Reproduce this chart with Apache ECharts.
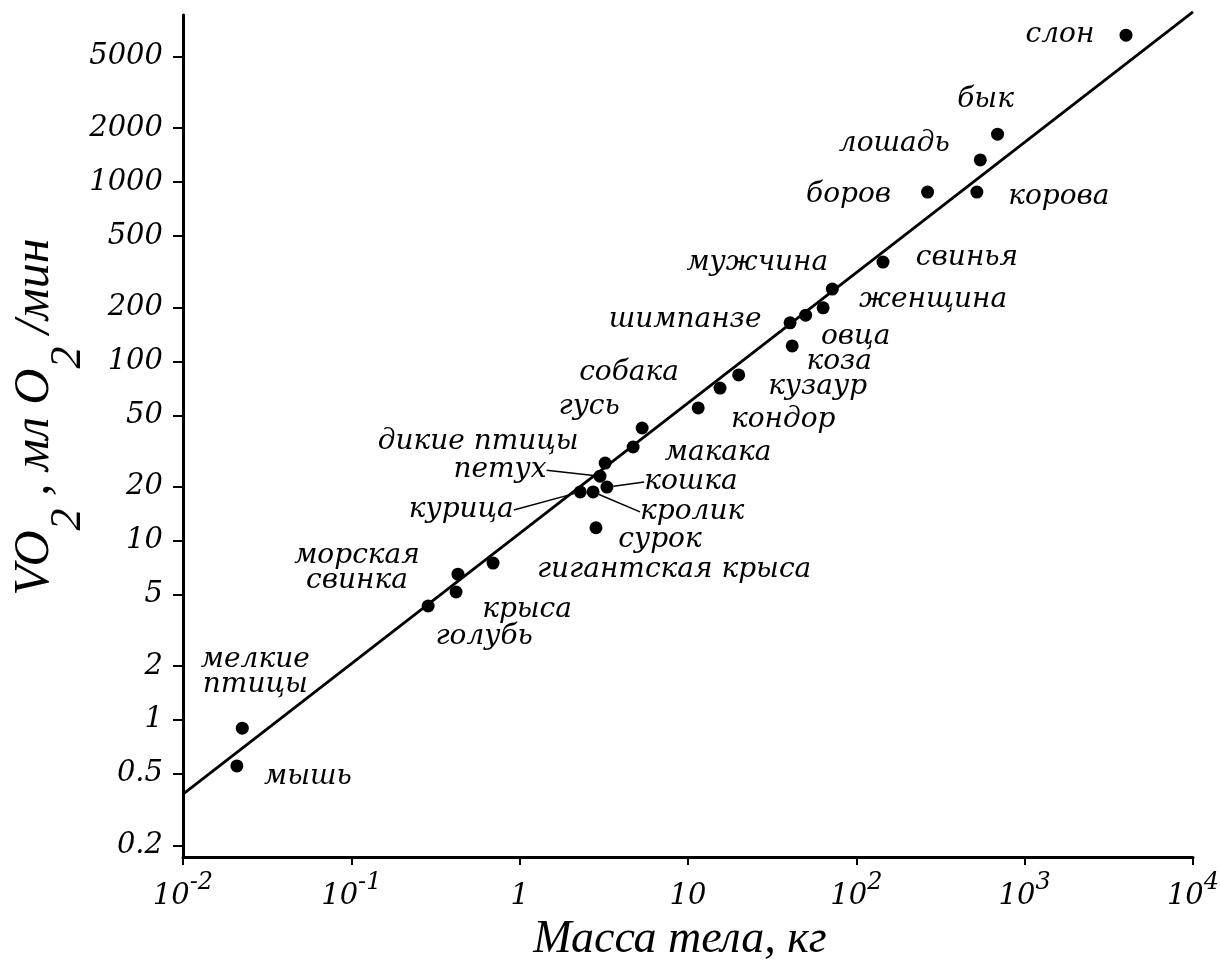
<!DOCTYPE html>
<html><head><meta charset="utf-8">
<script src="https://cdn.jsdelivr.net/npm/echarts@6/dist/echarts.min.js"></script>
<style>html,body{margin:0;padding:0;background:#fff}#c{width:1220px;height:966px}</style>
</head><body><div id="c"></div>
<script>
// ---- data ----
const animals = ['слон','бык','лошадь','боров','корова','свинья','мужчина','женщина','овца','шимпанзе','коза','кузаур','кондор','собака','гусь','макака','дикие птицы','петух','кошка','кролик','курица','сурок','гигантская крыса','морская\nсвинка','крыса','голубь','мелкие\nптицы','мышь'];
const massKg = [4000, 690, 545, 265, 520, 144, 72, 63.5, 50, 40.4, 41.6, 20, 11.5, 15.5, 5.34, 4.72, 3.22, 3.0, 3.3, 2.73, 2.29, 2.84, 0.695, 0.43, 0.419, 0.286, 0.0225, 0.0209];
const vo2 = [6600, 1850, 1330, 880, 880, 358, 253, 199, 181, 164, 122, 84, 55, 71, 42.5, 33.3, 27.1, 22.9, 19.9, 18.7, 18.7, 11.8, 7.5, 6.5, 5.17, 4.32, 0.90, 0.554];
const lineMass = [0.01, 10000];
const lineVO2 = [0.386, 8900];
const yTickValues = [0.2, 0.5, 1, 2, 5, 10, 20, 50, 100, 200, 500, 1000, 2000, 5000];
const yTickLabels = ['0.2','0.5','1','2','5','10','20','50','100','200','500','1000','2000','5000'];
const xTickValues = [0.01, 0.1, 1, 10, 100, 1000, 10000];
const xTickBase = ['10','10','1','10','10','10','10'];
const xTickExp = ['-2','-1','','','2','3','4'];

// ---- label layout (pixel offset of label centre from its dot) ----
const labelOffsets = {
  'слон':[-66,0],'бык':[-12,-34],'лошадь':[-86,-16],'боров':[-79,3],'корова':[82,5],'свинья':[84,-4],
  'мужчина':[-75,-26],'женщина':[110,-8],'овца':[50,22],'шимпанзе':[-105,-3],'коза':[47,16],'кузаур':[79,12],
  'кондор':[85,12],'собака':[-91,-15],'гусь':[-53,-21],'макака':[85,6],'дикие птицы':[-127,-21],
  'петух':[-100,-6],'кошка':[84,-5],'кролик':[99,20],'курица':[-119,18],'сурок':[64,12],
  'гигантская крыса':[181,7],'морская\nсвинка':[-101,-6],'крыса':[71,18],'голубь':[56,31],
  'мелкие\nптицы':[13,-56],'мышь':[71,11]
};
const leaderNames = ['петух','кошка','кролик','курица'];

const serif = 'DejaVu Serif';
const labelStyle = {color:'#000', opacity:1, fontFamily: serif, fontStyle:'italic', fontSize:28, lineHeight:25};

function nearestIdx(arr, v){
  let best = 0, bd = Infinity;
  arr.forEach((a,i)=>{ const d = Math.abs(Math.log10(a) - Math.log10(v)); if (d < bd){bd = d; best = i;} });
  return best;
}

const mainIdx = [], leadIdx = [];
animals.forEach((n,i)=>{ (leaderNames.includes(n) ? leadIdx : mainIdx).push(i); });
function makeData(idx){ return idx.map(i=>({name: animals[i], value:[massKg[i], vo2[i]]})); }
function layoutFor(idx){
  return function(p){ const o = labelOffsets[animals[idx[p.dataIndex]]]; return {dx:o[0], dy:o[1]}; };
}

const chart = echarts.init(document.getElementById('c'));
chart.setOption({
  animation:false,
  backgroundColor:'#fff',
  grid:{left:183, right:27, top:15, bottom:109, containLabel:false, outerBoundsMode:'none'},
  xAxis:{
    type:'log', logBase:10, min:0.01, max:10000,
    axisLine:{show:true, onZero:false, lineStyle:{color:'#000', width:3}},
    axisTick:{show:true, inside:false, length:8, lineStyle:{color:'#000', width:2}, customValues:xTickValues},
    axisLabel:{
      customValues:xTickValues, margin:14,
      formatter:function(v){ const i = nearestIdx(xTickValues, v); return '{b|'+xTickBase[i]+'}' + (xTickExp[i] ? '{p|'+xTickExp[i]+'}' : ''); },
      rich:{
        b:{fontFamily:serif, fontStyle:'italic', fontSize:29, color:'#000', lineHeight:40, verticalAlign:'bottom'},
        p:{fontFamily:serif, fontStyle:'italic', fontSize:24, color:'#000', lineHeight:40, verticalAlign:'top'}
      }
    },
    splitLine:{show:false}, minorTick:{show:false},
    name:'Масса тела, кг', nameLocation:'middle', nameGap:60, nameMoveOverlap:false,
    nameTextStyle:{fontFamily:'Liberation Serif', fontStyle:'italic', fontSize:46, color:'#000', padding:[0,16,0,0]}
  },
  yAxis:{
    type:'log', logBase:10, min:0.172, max:8550,
    axisLine:{show:true, onZero:false, lineStyle:{color:'#000', width:3}},
    axisTick:{show:true, inside:false, length:10, lineStyle:{color:'#000', width:2}, customValues:yTickValues},
    axisLabel:{
      customValues:yTickValues, margin:20,
      formatter:function(v){ return yTickLabels[nearestIdx(yTickValues, v)]; },
      fontFamily:serif, fontStyle:'italic', fontSize:29, color:'#000'
    },
    splitLine:{show:false}, minorTick:{show:false},
    name:'{m|VO}{s|2}{m| , мл O}{s|2}{m| /мин}', nameLocation:'middle', nameGap:93, nameRotate:90, nameMoveOverlap:false,
    nameTextStyle:{
      padding:[0,0,0,38],
      rich:{
        m:{fontFamily:'Liberation Serif', fontStyle:'italic', fontSize:50, color:'#000', lineHeight:52, verticalAlign:'top'},
        s:{fontFamily:'Liberation Serif', fontStyle:'italic', fontSize:44, color:'#000', lineHeight:80, verticalAlign:'bottom'}
      }
    }
  },
  series:[
    {
      type:'line', data: lineMass.map((m,i)=>[m, lineVO2[i]]), symbol:'none', clip:false,
      lineStyle:{color:'#000', width:2.8}, z:1, silent:true
    },
    {
      type:'scatter', data: makeData(mainIdx), symbol:'circle', symbolSize:13,
      itemStyle:{color:'#000', opacity:1}, z:3,
      label:Object.assign({show:true, position:'inside', formatter:'{b}', align:'center', verticalAlign:'middle'}, labelStyle),
      labelLayout: layoutFor(mainIdx)
    },
    {
      type:'scatter', data: makeData(leadIdx), symbol:'circle', symbolSize:13,
      itemStyle:{color:'#000', opacity:1}, z:3,
      label:Object.assign({show:true, position:'inside', formatter:'{b}', align:'center', verticalAlign:'middle'}, labelStyle),
      labelLine:{show:true, lineStyle:{color:'#000', width:1.5}},
      labelLayout: layoutFor(leadIdx)
    }
  ]
});
</script></body></html>
